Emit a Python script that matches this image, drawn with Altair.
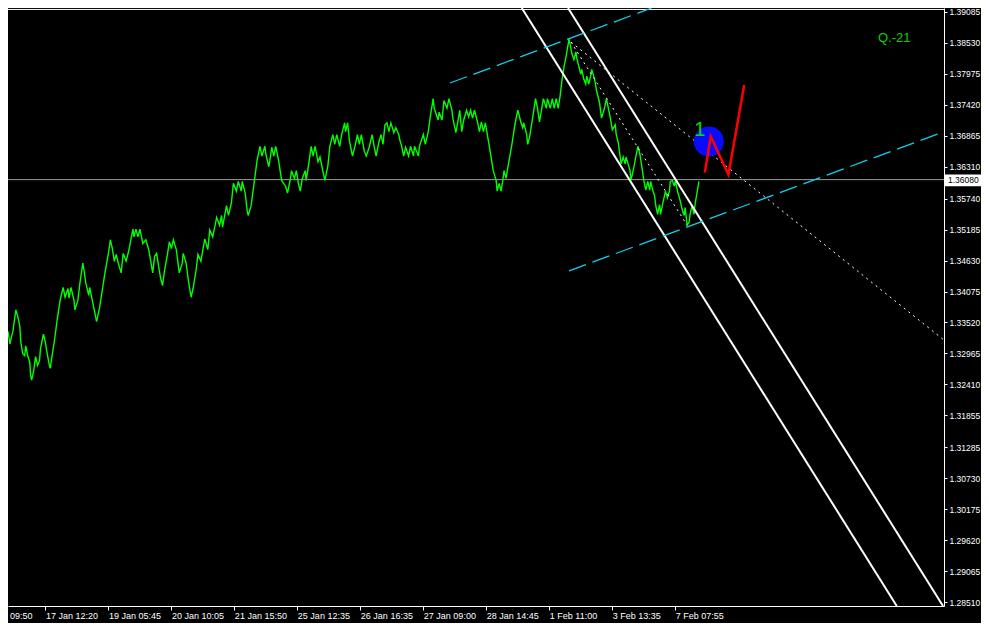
import altair as alt
import pandas as pd

# ---------------- data ----------------
# bar index (x) and close price of the green line
bar_x = [0, 2, 3, 5, 8, 10, 12, 13, 15, 17, 18, 20, 22, 23, 24, 26, 28, 30, 32, 33, 36, 38, 39, 42, 43, 44, 47, 50,
         53, 56, 58, 61, 62, 64, 67, 68, 71, 73, 76, 77, 79, 82, 83, 85, 87, 90, 93, 95, 98, 102, 104, 106, 108, 110,
         112, 115, 117, 120, 123, 125, 127, 128, 130, 132, 134, 137, 140, 143, 145, 147, 149, 151, 153, 155, 157, 159,
         162, 164, 166, 168, 171, 174, 177, 178, 181, 183, 186, 188, 191, 193, 196, 198, 200, 203, 205, 208, 212, 215,
         217, 218, 222, 224, 227, 229, 232, 234, 237, 238, 241, 243, 244, 247, 250, 253, 256, 258, 261, 262, 265, 266,
         268, 270, 272, 275, 278, 282, 284, 287, 288, 291, 293, 295, 297, 299, 302, 303, 306, 308, 310, 312, 315, 317,
         320, 322, 325, 327, 330, 332, 334, 337, 339, 342, 343, 345, 347, 350, 353, 355, 357, 359, 362, 364, 367, 370,
         372, 374, 377, 379, 381, 383, 385, 387, 389, 392, 394, 397, 398, 400, 402, 404, 407, 409, 412, 413, 417, 418,
         422, 424, 427, 429, 432, 433, 437, 438, 441, 443, 446, 448, 451, 452, 455, 457, 459, 461, 463, 466, 468, 470,
         472, 474, 477, 479, 481, 483, 485, 487, 490, 493, 496, 497, 499, 501, 503, 504, 506, 508, 512, 515, 518, 521,
         523, 524, 527, 528, 530, 533, 536, 538, 540, 542, 544, 547, 548, 551, 553, 555, 557, 559, 561, 563, 565, 567,
         570, 573, 575, 577, 578, 582, 583, 585, 587, 588, 590, 592, 593, 596, 598, 601, 603, 606, 608, 610, 612, 614,
         617, 618, 620, 622, 623, 625, 627, 628, 630, 632, 633, 636, 638, 640, 642, 644, 646, 648, 650, 652, 653, 655,
         657, 658, 660, 662, 663, 665, 667, 668, 670, 672, 673, 675, 677, 678, 680, 683, 685, 687, 688, 690, 692, 693,
         695, 697, 698, 700, 702]
close = [1.33362, 1.33135, 1.33222, 1.33362, 1.33746, 1.33623, 1.33449, 1.33170, 1.32960, 1.32925, 1.33100, 1.32925,
         1.32821, 1.32576, 1.32489, 1.32646, 1.32908, 1.32751, 1.32838, 1.33048, 1.33309, 1.33170, 1.33048, 1.32751,
         1.32699, 1.32838, 1.33170, 1.33571, 1.33920, 1.34147, 1.33972, 1.34129, 1.33955, 1.34147, 1.33920, 1.33746,
         1.33920, 1.34217, 1.34583, 1.34478, 1.34234, 1.34007, 1.34147, 1.33972, 1.33798, 1.33536, 1.33780, 1.34007,
         1.34356, 1.34758, 1.35002, 1.34845, 1.34618, 1.34740, 1.34583, 1.34409, 1.34758, 1.34618, 1.34827, 1.35019,
         1.35194, 1.35054, 1.35194, 1.35054, 1.35194, 1.34932, 1.35002, 1.34827, 1.34618, 1.34409, 1.34705, 1.34758,
         1.34531, 1.34321, 1.34182, 1.34444, 1.34740, 1.34967, 1.34845, 1.35002, 1.34827, 1.34409, 1.34583, 1.34758,
         1.34583, 1.34304, 1.33972, 1.34129, 1.34444, 1.34740, 1.34618, 1.34827, 1.35019, 1.34827, 1.35176, 1.35054,
         1.35403, 1.35264, 1.35438, 1.35229, 1.35613, 1.35438, 1.35665, 1.36014, 1.35874, 1.36049, 1.35874, 1.36049,
         1.35840, 1.35525, 1.35438, 1.35613, 1.36014, 1.36415, 1.36677, 1.36503, 1.36677, 1.36538, 1.36311, 1.36415,
         1.36660, 1.36503, 1.36677, 1.36415, 1.36066, 1.35962, 1.35840, 1.36101, 1.36241, 1.36101, 1.36241, 1.36014,
         1.35874, 1.36101, 1.36241, 1.36066, 1.36415, 1.36677, 1.36503, 1.36677, 1.36398, 1.36485, 1.36223, 1.36066,
         1.36328, 1.36677, 1.36887, 1.36712, 1.36887, 1.36677, 1.36887, 1.37096, 1.36939, 1.37096, 1.36764, 1.36503,
         1.36712, 1.36887, 1.36712, 1.36887, 1.36590, 1.36503, 1.36660, 1.36887, 1.36677, 1.36503, 1.36764, 1.36887,
         1.36712, 1.37061, 1.37096, 1.36939, 1.37096, 1.36921, 1.37009, 1.36887, 1.36799, 1.36677, 1.36503, 1.36660,
         1.36503, 1.36677, 1.36503, 1.36677, 1.36503, 1.36677, 1.36887, 1.36712, 1.36939, 1.37201, 1.37532, 1.37358,
         1.37148, 1.37288, 1.37148, 1.37497, 1.37358, 1.37532, 1.37323, 1.37183, 1.36921, 1.37113, 1.37323, 1.36939,
         1.37148, 1.37323, 1.37201, 1.37323, 1.37183, 1.37323, 1.37113, 1.36939, 1.37113, 1.36939, 1.37096, 1.36887,
         1.36572, 1.36241, 1.36066, 1.35874, 1.36014, 1.35874, 1.36101, 1.36241, 1.36101, 1.36311, 1.36712, 1.37061,
         1.37323, 1.37113, 1.37009, 1.37096, 1.36887, 1.36712, 1.36852, 1.37183, 1.37532, 1.37358, 1.37113, 1.37323,
         1.37532, 1.37358, 1.37532, 1.37358, 1.37532, 1.37358, 1.37532, 1.37358, 1.37585, 1.37881, 1.38108, 1.38283,
         1.38597, 1.38335, 1.38230, 1.38370, 1.38248, 1.37968, 1.38056, 1.37881, 1.37794, 1.37934, 1.37794, 1.37934,
         1.38056, 1.37881, 1.37672, 1.37462, 1.37183, 1.37358, 1.37532, 1.37358, 1.37183, 1.36974, 1.37061, 1.36887,
         1.36747, 1.36485, 1.36363, 1.36485, 1.36363, 1.36485, 1.36363, 1.36241, 1.36066, 1.36311, 1.36503, 1.36677,
         1.36538, 1.36311, 1.36066, 1.35892, 1.36049, 1.35892, 1.36049, 1.35892, 1.35787, 1.35630, 1.35456, 1.35630,
         1.35456, 1.35630, 1.35787, 1.35874, 1.35752, 1.35874, 1.36049, 1.36066, 1.35962, 1.36066, 1.35892, 1.35700,
         1.35543, 1.35438, 1.35578, 1.35264, 1.35316, 1.35456, 1.35613, 1.35456, 1.35630, 1.35840, 1.36049]

price_ticks = [1.39085, 1.38530, 1.37975, 1.37420, 1.36865, 1.36310, 1.35740, 1.35185, 1.34630, 1.34075,
               1.33520, 1.32965, 1.32410, 1.31855, 1.31285, 1.30730, 1.30175, 1.29620, 1.29065, 1.28510]
time_tick_pos = [38, 102, 166, 230, 294, 358, 422, 486, 550, 614, 678]
time_tick_labels = ["17 Jan 12:20", "19 Jan 05:45", "20 Jan 10:05", "21 Jan 15:50", "25 Jan 12:35",
                    "26 Jan 16:35", "27 Jan 09:00", "28 Jan 14:45", "1 Feb 11:00", "3 Feb 13:35", "7 Feb 07:55"]
first_label = "09:50"
first_label_x = 2
first_label_price = 1.28266

current_price = 1.36080
top_line_price = 1.39129

# trend lines (x, price) pairs
channel_names = ["A", "A", "B", "B"]
channel_x = [522, 903, 569, 950]
channel_p = [1.39155, 1.28440, 1.39155, 1.28440]

cyan_names = ["up", "up", "low", "low"]
cyan_x = [449, 654, 570, 951]
cyan_p = [1.37811, 1.39155, 1.34444, 1.36939]

dotted_names = ["shallow", "shallow", "steep", "steep"]
dotted_x = [572, 951, 572, 690]
dotted_p = [1.38544, 1.33205, 1.38544, 1.35264]

red_x = [708, 714, 732, 748]
red_p = [1.36206, 1.36852, 1.36171, 1.37776]

circle_x = [712]
circle_p = [1.36764]

one_x = [703]
one_p = [1.36974]

q_x = [884]
q_p = [1.38614]
q_text = ["Q.-21"]

box_x = [952]
box_x2 = [992]
box_p = [1.36171]
box_p2 = [1.35962]
box_label_x = [955]

# ---------------- chart ----------------
W, H = 936, 598
xs = alt.Scale(domain=[0, 951], nice=False, zero=False)
ys = alt.Scale(domain=[1.28440, 1.39155], nice=False, zero=False)
FONT = "Liberation Sans"

arr_pos = "[" + ",".join(str(v) for v in time_tick_pos) + "]"
arr_lab = "[" + ",".join("'" + s + "'" for s in time_tick_labels) + "]"

AX_X = alt.Axis(orient="bottom", values=time_tick_pos,
                labelExpr=f"{arr_lab}[indexof({arr_pos}, datum.value)]",
                labelAlign="left", labelBaseline="top", labelPadding=1, labelFontSize=9,
                tickSize=4, labelFlush=False, labelOverlap=False, title=None)
AX_Y = alt.Axis(orient="right", values=price_ticks, format=".5f", labelFontSize=8.5,
                tickSize=3, labelPadding=2, labelFlush=False, labelOverlap=False, title=None)


def X(field="x"):
    return alt.X(f"{field}:Q", scale=xs, axis=AX_X, title=None)


def Y(field="p"):
    return alt.Y(f"{field}:Q", scale=ys, axis=AX_Y, title=None)


green_df = pd.DataFrame({"x": bar_x, "p": close})

green = alt.Chart(green_df).mark_line(color="#00ff00", strokeWidth=1.4).encode(x=X(), y=Y())

price_line = alt.Chart(pd.DataFrame({"p": [current_price]})).mark_rule(
    color="#9a9a9a", strokeWidth=1).encode(y=Y())
top_line = alt.Chart(pd.DataFrame({"p": [top_line_price]})).mark_rule(
    color="white", strokeWidth=1).encode(y=Y())

channel = alt.Chart(pd.DataFrame({"n": channel_names, "x": channel_x, "p": channel_p})).mark_line(
    color="white", strokeWidth=2).encode(x=X(), y=Y(), detail="n:N")

cyan = alt.Chart(pd.DataFrame({"n": cyan_names, "x": cyan_x, "p": cyan_p})).mark_line(
    color="#10d0f0", strokeWidth=1.3, strokeDash=[18, 7], clip=True).encode(x=X(), y=Y(), detail="n:N")

dotted = alt.Chart(pd.DataFrame({"n": dotted_names, "x": dotted_x, "p": dotted_p})).mark_line(
    color="white", strokeWidth=1, strokeDash=[2, 4]).encode(x=X(), y=Y(), detail="n:N")

circle = alt.Chart(pd.DataFrame({"x": circle_x, "p": circle_p})).mark_circle(
    color="#0a0aff", size=900, opacity=1).encode(x=X(), y=Y())

red = alt.Chart(pd.DataFrame({"x": red_x, "p": red_p})).mark_line(
    color="#ff0000", strokeWidth=2.5).encode(x=X(), y=Y())

one = alt.Chart(pd.DataFrame({"x": one_x, "p": one_p, "t": ["1"]})).mark_text(
    color="#00e000", font=FONT, fontSize=20, align="center", baseline="middle").encode(
    x=X(), y=Y(), text="t:N")

q = alt.Chart(pd.DataFrame({"x": q_x, "p": q_p, "t": q_text})).mark_text(
    color="#00d800", font=FONT, fontSize=13, align="left", baseline="middle").encode(
    x=X(), y=Y(), text="t:N")

box = alt.Chart(pd.DataFrame({"x": box_x, "x2": box_x2, "p": box_p, "p2": box_p2})).mark_rect(
    color="white").encode(x=X(), x2="x2:Q", y=Y(), y2="p2:Q")

box_text = alt.Chart(pd.DataFrame({"x": box_label_x, "p": [current_price], "t": ["1.36080"]})).mark_text(
    color="black", font=FONT, fontSize=8.5, align="left", baseline="middle").encode(
    x=X(), y=Y(), text="t:N")

first = alt.Chart(pd.DataFrame({"x": [first_label_x], "p": [first_label_price], "t": [first_label]})).mark_text(
    color="white", font=FONT, fontSize=9, align="left", baseline="middle").encode(
    x=X(), y=Y(), text="t:N")

chart = alt.layer(
    price_line, top_line, green, channel, cyan, dotted, circle, red, one, q, box, box_text, first
).properties(
    width=W, height=H,
    autosize=alt.AutoSizeParams(type="none"),
    padding={"left": 0, "top": 0, "right": 37, "bottom": 17},
    background="black",
).configure_view(strokeWidth=0).configure_axis(
    grid=False, labelFont=FONT, labelColor="white",
    domainColor="white", tickColor="white", domainWidth=1, tickWidth=1,
)

chart.save("out.html", embed_options={"renderer": "svg", "actions": False})
